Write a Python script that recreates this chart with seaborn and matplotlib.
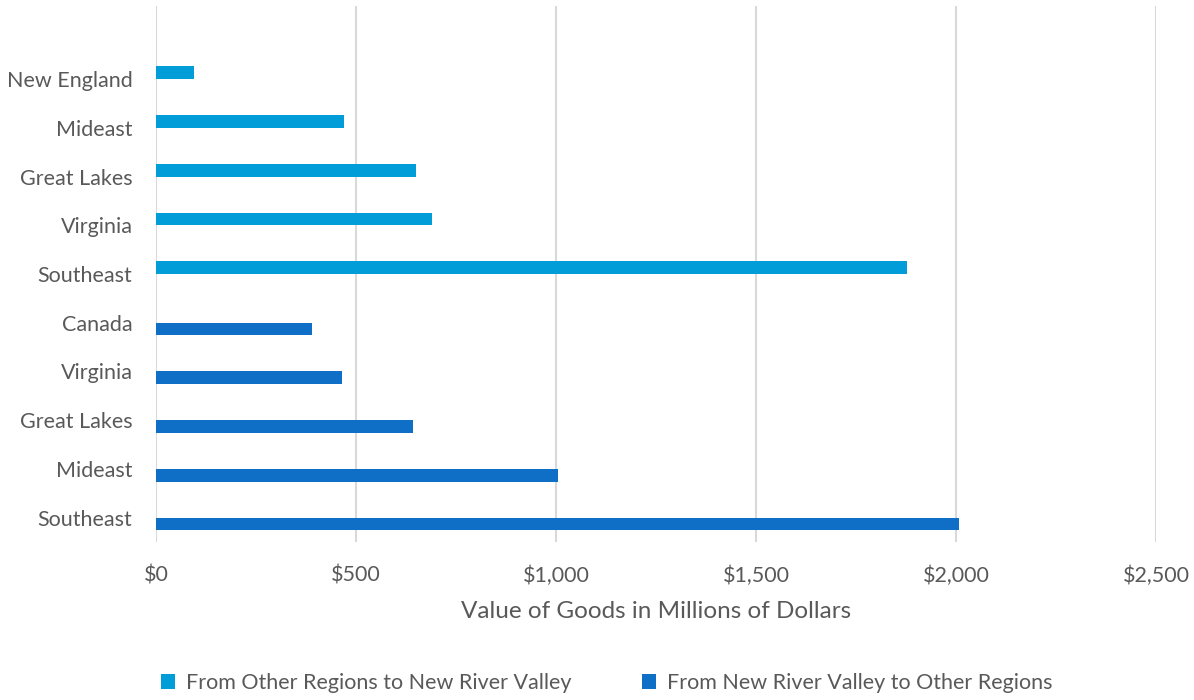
import matplotlib
matplotlib.use("Agg")
import matplotlib.pyplot as plt
from matplotlib.ticker import FuncFormatter, MultipleLocator
import seaborn as sns
import pandas as pd

# Flows of goods, millions of dollars
inbound_regions = ["New England", "Mideast", "Great Lakes", "Virginia", "Southeast"]
inbound_values = [96, 471, 651, 690, 1878]
outbound_regions = ["Canada", "Virginia", "Great Lakes", "Mideast", "Southeast"]
outbound_values = [389, 464, 642, 1004, 2007]

series_names = ["From Other Regions to New River Valley",
                "From New River Valley to Other Regions"]
series_colors = ["#009DD9", "#0F6FC6"]
text_color = "#595959"
grid_color = "#D9D9D9"

# unique row keys (region names repeat between the two groups)
in_keys = [f"in:{r}" for r in inbound_regions]
out_keys = [f"out:{r}" for r in outbound_regions]
row_order = ["blank"] + in_keys + out_keys
row_labels = [""] + inbound_regions + outbound_regions

df = pd.DataFrame({
    "row": in_keys + out_keys,
    "flow": [series_names[0]] * len(in_keys) + [series_names[1]] * len(out_keys),
    "value": inbound_values + outbound_values,
})

sns.set_theme(style="white")
plt.rcParams["font.family"] = ["Lato", "DejaVu Sans"]

fig = plt.figure(figsize=(11.94, 7.0), dpi=100)
ax = fig.add_axes([0.1307, 0.2257, 0.8375, 0.7657])

sns.barplot(data=df, x="value", y="row", hue="flow", order=row_order,
            hue_order=series_names, palette=series_colors, orient="h",
            width=0.52, dodge=True, saturation=1, ax=ax, legend=True,
            edgecolor="none")

ax.set_xlim(0, 2500)
ax.set_ylim(len(row_order) - 0.5, -0.5)
ax.xaxis.set_major_locator(MultipleLocator(500))
ax.xaxis.set_major_formatter(FuncFormatter(lambda v, p: f"${v:,.0f}"))
ax.grid(axis="x", color=grid_color, linewidth=1.5)
ax.set_axisbelow(True)
for side in ["top", "right", "bottom", "left"]:
    ax.spines[side].set_visible(False)

ax.set_yticks(range(len(row_order)))
ax.set_yticklabels(row_labels)
ax.tick_params(axis="both", length=0, labelsize=15.5, colors=text_color)
ax.tick_params(axis="x", pad=17)
ax.tick_params(axis="y", pad=17)
ax.set_ylabel("")
ax.set_xlabel("Value of Goods in Millions of Dollars", fontsize=17.5,
              color=text_color, labelpad=11)

ax.get_legend().remove()
handles, labels = ax.get_legend_handles_labels()
fig.legend(handles[:2], labels[:2], loc="center", ncol=2,
           bbox_to_anchor=(0.508, 0.024), frameon=False, fontsize=15.5,
           labelcolor=text_color, handlelength=0.65, handleheight=0.65,
           handletextpad=0.5, columnspacing=3.3)

fig.savefig("out.png", dpi=100, facecolor="white")
